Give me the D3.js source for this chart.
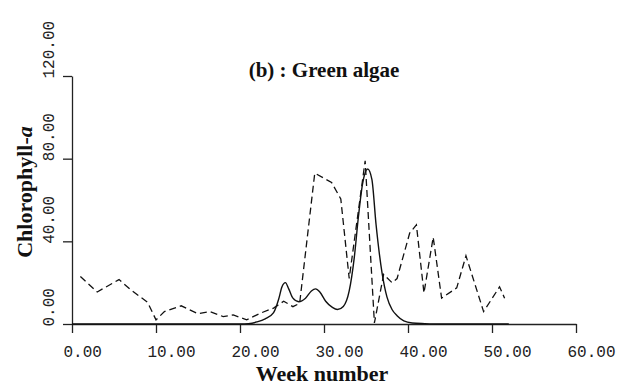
<!DOCTYPE html>
<html>
<head>
<meta charset="utf-8">
<script src="https://cdn.jsdelivr.net/npm/d3@7"></script>
<style>
body { margin: 0; background: #fff; }
.tick text { font-family: "Liberation Mono", monospace; font-size: 16px; fill: #222; }
.lab { font-family: "Liberation Serif", serif; font-weight: bold; fill: #111; }
</style>
</head>
<body>
<script>
// observed chlorophyll (dashed)
const obsWeek = [1, 3, 5.6, 7, 9, 10, 11, 13, 15, 16.4, 18, 19.2, 20.8, 22.4, 24, 25.2, 26.3, 27.1, 28.9, 30.9, 32, 33, 34.9, 36, 37.1, 38.1, 38.7, 40.2, 41, 41.9, 43, 44, 45.8, 46.9, 49, 50.9, 51.5];
const obsVal  = [23, 15.5, 21.5, 16.5, 10.5, 2, 6, 8.8, 5, 6, 3.6, 4.4, 2, 5.2, 7.7, 11, 8.4, 10, 73, 68.5, 60.5, 22, 79, 0.5, 24, 20, 22, 44, 48, 15, 42, 12.5, 17.5, 33, 6, 18, 12.5];

// model (solid)
const modWeek = [0, 20, 21, 22, 23, 24, 24.6, 25, 25.4, 25.8, 26.3, 27, 27.8, 28.5, 29, 29.5, 30.2, 31, 31.6, 32.3, 33, 33.6, 34.1, 34.6, 35.2, 35.7, 36.2, 36.9, 37.5, 38.1, 38.7, 39.5, 40.5, 42, 44, 52];
const modVal  = [0, 0, 0.2, 1, 2.5, 5.5, 12, 18, 20, 17, 12.5, 10.8, 12.5, 16, 17, 15.5, 11, 8, 7, 8.5, 16, 32, 52, 68, 75, 70, 48, 25, 13, 7, 4, 1.5, 0.5, 0.2, 0, 0];

const xTicks = [0, 10, 20, 30, 40, 50, 60];
const yTicks = [0, 40, 80, 120];

const W = 619, H = 387;
const svg = d3.select('body').append('svg')
	.attr('width', W)
	.attr('height', H);

const x = d3.scaleLinear().domain([0, 60]).range([72, 576]);
const y = d3.scaleLinear().domain([0, 120]).range([324, 76]);

const xAxis = d3.axisBottom(x)
	.tickValues(xTicks)
	.tickFormat(d3.format('.2f'))
	.tickSize(9)
	.tickSizeOuter(0);
const yAxis = d3.axisLeft(y)
	.tickValues(yTicks)
	.tickFormat(d3.format('.2f'))
	.tickSize(9)
	.tickSizeOuter(0);

const gx = svg.append('g')
	.attr('transform', 'translate(0,' + y(0) + ')')
	.call(xAxis);
gx.selectAll('text')
	.attr('text-anchor', 'start')
	.attr('x', -9)
	.attr('y', 33)
	.attr('dy', 0);

const gy = svg.append('g')
	.attr('transform', 'translate(' + x(0) + ',0)')
	.call(yAxis);
gy.selectAll('text')
	.attr('text-anchor', 'start')
	.attr('x', 0)
	.attr('y', 0)
	.attr('dy', 0)
	.attr('transform', 'translate(-18,2) rotate(-90)');

svg.selectAll('.domain, .tick line')
	.attr('stroke', '#222')
	.attr('stroke-width', 1.3);

const obs = obsWeek.map((w, i) => [w, obsVal[i]]);
const mod = modWeek.map((w, i) => [w, modVal[i]]);

svg.append('path')
	.datum(mod)
	.attr('fill', 'none')
	.attr('stroke', '#111')
	.attr('stroke-width', 1.4)
	.attr('d', d3.line().x(d => x(d[0])).y(d => y(d[1])).curve(d3.curveMonotoneX));

svg.append('path')
	.datum(obs)
	.attr('fill', 'none')
	.attr('stroke', '#111')
	.attr('stroke-width', 1.3)
	.attr('stroke-dasharray', '7,4')
	.attr('d', d3.line().x(d => x(d[0])).y(d => y(d[1])));

svg.append('text')
	.attr('class', 'lab')
	.attr('x', 324)
	.attr('y', 77)
	.attr('text-anchor', 'middle')
	.style('font-size', '21px')
	.text('(b) : Green algae');

svg.append('text')
	.attr('class', 'lab')
	.attr('x', 322)
	.attr('y', 381)
	.attr('text-anchor', 'middle')
	.style('font-size', '22px')
	.text('Week number');

const yl = svg.append('text')
	.attr('class', 'lab')
	.attr('transform', 'translate(32,192) rotate(-90)')
	.attr('text-anchor', 'middle')
	.style('font-size', '22px');
yl.append('tspan').text('Chlorophyll-');
yl.append('tspan').style('font-style', 'italic').text('a');
</script>
</body>
</html>
